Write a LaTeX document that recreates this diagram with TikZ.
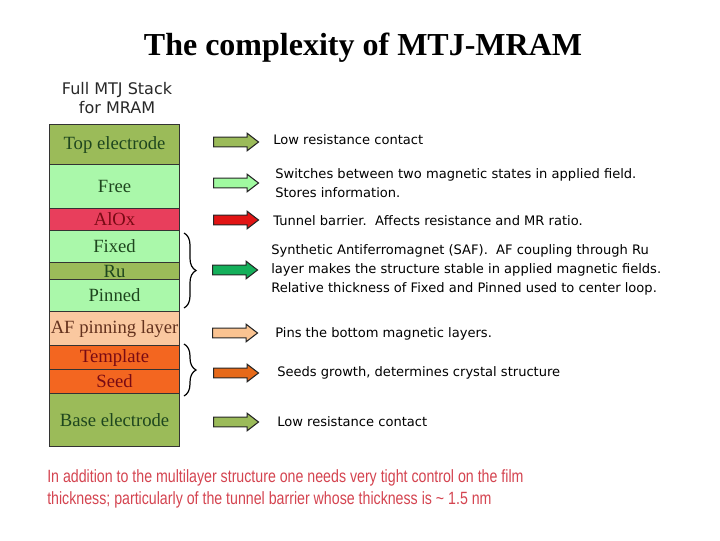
\documentclass[tikz,border=0pt]{standalone}
\usepackage{fontspec}
\setmainfont{Liberation Serif}
\newfontfamily\labfont{DejaVu Sans}
\newfontfamily\narrowfont[FakeStretch=0.8]{Liberation Sans}
\usetikzlibrary{shapes.arrows,decorations.pathreplacing}
\definecolor{olive}{RGB}{155,187,89}
\definecolor{lgreen}{RGB}{170,248,170}
\definecolor{alox}{RGB}{232,62,92}
\definecolor{peach}{RGB}{250,200,160}
\definecolor{orng}{RGB}{243,102,32}
\definecolor{dgreen}{RGB}{30,70,30}
\definecolor{dred}{RGB}{120,10,20}
\definecolor{brwn}{RGB}{100,50,30}
\definecolor{arred}{RGB}{225,20,20}
\definecolor{argreen}{RGB}{20,175,90}
\definecolor{arlgreen}{RGB}{160,250,160}
\definecolor{arpeach}{RGB}{250,195,145}
\definecolor{arorng}{RGB}{230,105,25}
\definecolor{notered}{RGB}{212,68,80}
\definecolor{hdr}{RGB}{40,40,40}
\tikzset{
  layer/.style={draw=black!80, line width=0.8pt, anchor=north west, inner sep=0pt,
    minimum width=97.5pt, font=\fontsize{14}{16}\selectfont, text=dgreen},
  arr/.style={single arrow, draw=black!85, line width=0.8pt, minimum height=33.75pt,
    minimum width=12.75pt, inner sep=3.3pt, single arrow head extend=2.9pt,
    single arrow tip angle=75, anchor=west},
  desc/.style={anchor=west, align=left, inner sep=0pt, font=\labfont\fontsize{9.8}{14.2}\selectfont, text=black},
  brc/.style={decorate, decoration={brace, amplitude=9pt}, line width=0.9pt}
}
\begin{document}
\begin{tikzpicture}[x=0.75pt,y=-0.75pt]
\useasboundingbox (0,0) rectangle (720,540);
% title
\node[font=\bfseries\fontsize{24}{28}\selectfont] (title) at (363,48) {The complexity of MTJ-MRAM};
\node[font=\labfont\fontsize{12}{14.3}\selectfont, text=hdr, align=center] (hdr) at (117,98) {Full MTJ Stack\\for MRAM};
% stack
\node[layer, fill=olive, minimum height=30pt] (top) at (49,124) {Top electrode};
\node[layer, fill=lgreen, minimum height=33pt] (free) at (49,164) {Free};
\node[layer, fill=alox, minimum height=16.5pt, text=dred] (alox) at (49,208) {AlOx};
\node[layer, fill=lgreen, minimum height=24pt] (fixed) at (49,230) {Fixed};
\node[layer, fill=olive, minimum height=12.75pt] (ru) at (49,262) {Ru};
\node[layer, fill=lgreen, minimum height=24pt] (pinned) at (49,279) {Pinned};
\node[layer, fill=peach, minimum height=25.5pt, text=brwn] (af) at (49,311) {AF pinning layer};
\node[layer, fill=orng, minimum height=18pt, text=dred] (tmpl) at (49,345) {Template};
\node[layer, fill=orng, minimum height=18pt, text=dred] (seed) at (49,369) {Seed};
\node[layer, fill=olive, minimum height=39.75pt] (base) at (49,393) {Base electrode};
% braces
\draw[brc] (184,233) -- (184,308);
\draw[brc] (184,344) -- (184,396);
% arrows
\node[arr, fill=olive] (a1) at (213,142) {};
\node[arr, fill=arlgreen] (a2) at (213,183) {};
\node[arr, fill=arred] (a3) at (213,220) {};
\node[arr, fill=argreen] (a4) at (212,270) {};
\node[arr, fill=arpeach] (a5) at (212,333) {};
\node[arr, fill=arorng] (a6) at (213,373) {};
\node[arr, fill=olive] (a7) at (213,422) {};
% descriptions
\node[desc] (d1) at (273,140) {Low resistance contact};
\node[desc] (d2) at (275,183.5) {Switches between two magnetic states in applied field.\\Stores information.};
\node[desc] (d3) at (273,221) {Tunnel barrier.\ \ Affects resistance and MR ratio.};
\node[desc] (d4) at (271,270) {Synthetic Antiferromagnet (SAF).\ \ AF coupling through Ru\\layer makes the structure stable in applied magnetic fields.\\Relative thickness of Fixed and Pinned used to center loop.};
\node[desc] (d5) at (275,334) {Pins the bottom magnetic layers.};
\node[desc] (d6) at (277,373) {Seeds growth, determines crystal structure};
\node[desc] (d7) at (277,422) {Low resistance contact};
% note
\node[anchor=north west, align=left, inner sep=0pt, text=notered,
  font=\narrowfont\fontsize{13.3}{16.5}\selectfont] (note) at (47,469)
  {In addition to the multilayer structure one needs very tight control on the film\\thickness; particularly of the tunnel barrier whose thickness is \textasciitilde{} 1.5 nm};
\end{tikzpicture}
\end{document}
